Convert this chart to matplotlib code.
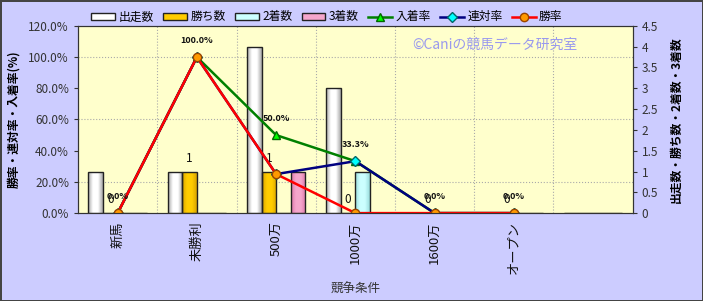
import matplotlib.pyplot as plt
import numpy as np
from matplotlib.colors import LinearSegmentedColormap
from matplotlib.lines import Line2D
from matplotlib.patches import Patch

plt.rcParams["font.family"] = ["Noto Sans CJK JP", "DejaVu Sans"]

# データ
categories = ["新馬", "未勝利", "500万", "1000万", "1600万", "オープン", ""]
starts = [1, 1, 4, 3, 0, 0, 0]        # 出走数
wins = [0, 1, 1, 0, 0, 0, 0]          # 勝ち数
seconds = [0, 0, 0, 1, 0, 0, 0]       # 2着数
thirds = [0, 0, 1, 0, 0, 0, 0]        # 3着数
place_rate = [0.0, 100.0, 50.0, 33.3, 0.0, 0.0]   # 入着率
top2_rate = [0.0, 100.0, 25.0, 33.3, 0.0, 0.0]    # 連対率
win_rate = [0.0, 100.0, 25.0, 0.0, 0.0, 0.0]      # 勝率

pct_ticks = [0, 20, 40, 60, 80, 100, 120]
cnt_ticks = [0, 0.5, 1, 1.5, 2, 2.5, 3, 3.5, 4, 4.5]

BG = "#ccccff"
PLOT_BG = "#ffffcc"


def gradient_bars(ax, bars, edge, mid):
    # 棒に横方向のグラデーションをつける
    cmap = LinearSegmentedColormap.from_list("g", [edge, mid, mid, edge])
    grad = np.linspace(0, 1, 64).reshape(1, -1)
    for b in bars:
        h = b.get_height()
        if h <= 0:
            continue
        x0 = b.get_x()
        im = ax.imshow(grad, cmap=cmap, aspect="auto", zorder=3,
                       extent=[x0, x0 + b.get_width(), 0, h])
        im.set_clip_path(b)
        b.set_facecolor("none")
        b.set_zorder(3.5)


fig = plt.figure(figsize=(7.03, 3.01), dpi=100, facecolor=BG,
                 edgecolor="#444444", linewidth=2)
ax = fig.add_axes([0.111, 0.292, 0.789, 0.622])
ax2 = ax.twinx()

x = np.arange(len(categories))
w = 0.184

# 棒グラフ（右軸）
specs = [
    (starts, "出走数", "#a8a8a8", "#ffffff"),
    (wins, "勝ち数", "#d9a400", "#ffcc00"),
    (seconds, "2着数", "#99dddd", "#ccffff"),
    (thirds, "3着数", "#dd77aa", "#f5a6cc"),
]
handles = []
for i, (vals, name, edge, mid) in enumerate(specs):
    bars = ax2.bar(x + (i - 1.5) * w, vals, width=w, color=mid,
                   edgecolor="#222222", linewidth=1, zorder=3)
    gradient_bars(ax2, bars, edge, mid)
    handles.append(Patch(facecolor=mid, edgecolor="#222222", label=name))

# 勝ち数ラベル
for xi, v in zip(x[:6], wins[:6]):
    ax2.annotate(str(v), (xi - 0.5 * w, v), xytext=(0, 5),
                 textcoords="offset points", ha="center", va="bottom",
                 fontsize=8.5, color="#111111", zorder=6)

ax2.set_ylim(0, 4.5)
ax2.set_yticks(cnt_ticks)
ax2.set_yticklabels([f"{t:g}" for t in cnt_ticks])
ax2.set_xlim(-0.5, len(categories) - 0.5)
# 横の目盛線（棒の後ろ）
ax2.set_yticks(np.array(pct_ticks[1:-1]) * 4.5 / 120, minor=True)
ax2.grid(which="minor", axis="y", color="#aaaaaa", linestyle=":", linewidth=0.8)
ax2.tick_params(axis="y", which="minor", length=0)
ax2.set_axisbelow(True)
ax2.patch.set_visible(True)
ax2.patch.set_facecolor(PLOT_BG)

# 折れ線（左軸）
ax.set_zorder(ax2.get_zorder() + 1)
ax.patch.set_visible(False)
ax.set_xticks(x[:-1] + 0.5, minor=True)
ax.grid(which="minor", axis="x", color="#aaaaaa", linestyle=":", linewidth=0.8)
ax.set_axisbelow(True)

xl = x[:len(place_rate)]
l1, = ax.plot(xl, place_rate, color="#008000", lw=1.8, marker="^",
              markersize=6, markerfacecolor="#00ff00", markeredgecolor="#006600",
              label="入着率")
l2, = ax.plot(xl, top2_rate, color="#000080", lw=1.8, marker="D",
              markersize=5, markerfacecolor="#00ffff", markeredgecolor="#006666",
              label="連対率")
l3, = ax.plot(xl, win_rate, color="#ff0000", lw=1.8, marker="o",
              markersize=6, markerfacecolor="#ff9900", markeredgecolor="#994400",
              label="勝率")
handles += [l1, l2, l3]

for xi, v in zip(xl, place_rate):
    ax.annotate(f"{v:.1f}%", (xi, v), xytext=(0, 9), textcoords="offset points",
                ha="center", va="bottom", fontsize=6.5, fontweight="bold",
                color="#111111")

ax.set_ylim(0, 120)
ax.set_yticks(pct_ticks)
ax.set_yticklabels([f"{t:.1f}%" for t in pct_ticks])
ax.set_xlim(-0.5, len(categories) - 0.5)
ax.set_xticks(x)
ax.set_xticklabels(categories, rotation=90, fontsize=9.5, color="#111111")
ax.tick_params(axis="x", which="both", length=0, pad=6)
ax.tick_params(axis="y", length=3, labelsize=8.5, colors="#333333")
ax2.tick_params(axis="y", which="major", length=3, labelsize=8.5, colors="#333333")
for a in (ax, ax2):
    for s in a.spines.values():
        s.set_color("#333333")

ax.set_ylabel("勝率・連対率・入着率(%)", fontsize=8.5, fontweight="bold", labelpad=6)
ax2.set_ylabel("出走数・勝ち数・2着数・3着数", fontsize=8.5, fontweight="bold",
               rotation=90, labelpad=8)
ax.set_xlabel("競争条件", fontsize=9, color="#333333", labelpad=6)

ax.text(0.751, 0.90, "©Caniの競馬データ研究室", transform=ax.transAxes,
        ha="center", va="center", fontsize=10, color="#9999ee")

fig.legend(handles=handles, loc="center", bbox_to_anchor=(0.465, 0.944),
           ncol=7, frameon=False, fontsize=8.5, handlelength=2.0,
           handleheight=0.5, handletextpad=0.3, columnspacing=0.8)

fig.savefig("out.png", dpi=100, facecolor=BG)
